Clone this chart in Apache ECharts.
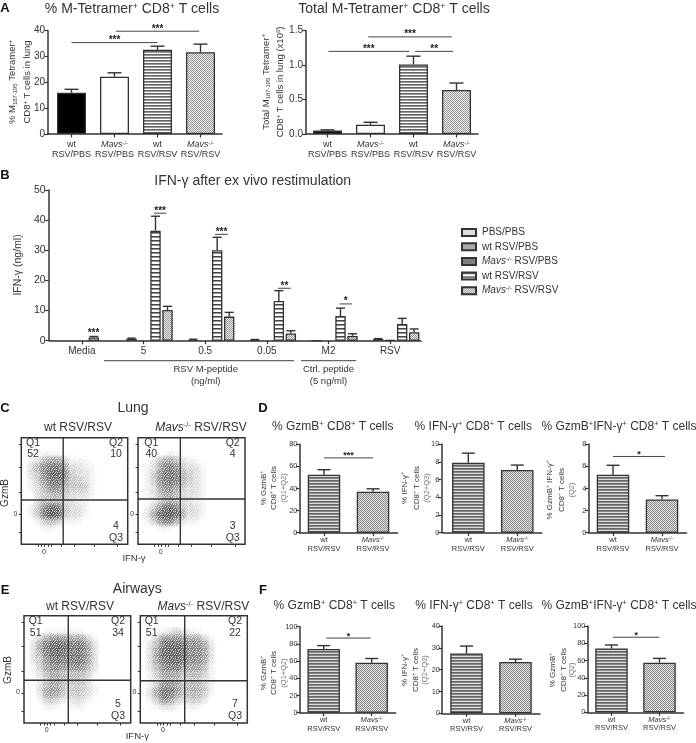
<!DOCTYPE html>
<html><head><meta charset="utf-8">
<style>html,body{margin:0;padding:0;background:#fff}#c{width:696px;height:743px;filter:blur(0.3px)}</style>
<script src="https://cdn.jsdelivr.net/npm/echarts@6/dist/echarts.min.js"></script>
</head><body><div id="c"></div>
<script>
// ---------- DATA ----------
const catsPbsRsv = ['wt\nRSV/PBS', 'Mavs\nRSV/PBS', 'wt\nRSV/RSV', 'Mavs\nRSV/RSV'];
const catsRsvRsv = ['wt\nRSV/RSV', 'Mavs\nRSV/RSV'];
const aPctVals = [16, 22.2, 32.6, 31.7];
const aPctTops = [17.3, 23.7, 34, 34.8];
const aPctSig = [[1.03, 2.97, 39.8, 3], [0, 2, 35.4, 3]];
const aTotVals = [0.05, 0.135, 1.01, 0.64];
const aTotTops = [0.06, 0.17, 1.13, 0.74];
const aTotSig = [[0.95, 2.89, 1.41, 3], [0.02, 1.9, 1.2, 3], [2.04, 2.92, 1.2, 2]];

const bCats = ['Media', '5', '0.5', '0.05', 'M2', 'RSV'];
const bNames = ['PBS/PBS', 'wt RSV/PBS', 'Mavs RSV/PBS', 'wt RSV/RSV', 'Mavs RSV/RSV'];
const bPbsPbs = [null, null, null, null, null, null];
const bWtPbs = [null, 0.7, 0.4, 0.3, 0.08, 0.6];
const bMavsPbs = [null, null, null, null, null, 0.2];
const bWtRsv = [1.1, 36.5, 30, 13.2, 8.2, 5.5];
const bMavsRsv = [null, 10.2, 8, 2.4, 1.6, 2.8];
const bWtPbsTop = [null, 0.85, 0.5, 0.4, null, 0.7];
const bWtRsvTop = [1.4, 41.3, 34.3, 16.6, 10.8, 7.4];
const bMavsRsvTop = [null, 11.4, 9.4, 3.3, 2.3, 3.9];
const bSig = [[0.19, 0.19, 1.9, 3], [1.17, 1.37, 42.3, 3], [2.16, 2.37, 35.3, 3], [3.18, 3.39, 17.4, 2], [4.18, 4.38, 12.2, 1]];

const d1Vals = [52.5, 37], d1Tops = [57, 39.7], d1Sig = [[0, 1, 67.7, 3]];
const d2Vals = [7.9, 7.1], d2Tops = [9, 7.65];
const d3Vals = [5.25, 3], d3Tops = [6.1, 3.35], d3Sig = [[0, 1.06, 6.9, 1]];
const f1Vals = [74, 58], f1Tops = [78, 63], f1Sig = [[0.05, 0.98, 86.8, 1]];
const f2Vals = [27.4, 23.5], f2Tops = [30.8, 24.8];
const f3Vals = [74, 57.5], f3Tops = [78, 62.5], f3Sig = [[0.03, 1, 87, 1]];

// Event density, 16 x 16 cells, top row first (0 empty .. 9 darkest)
const cWtDensity = ['0000000000000000','0000000000000000','0001110000000000','0124553111000000','0246775221100000','0236886322100000','0135775332100000','0124664333100000','0023443222100000','0023332211000000','0136873221000000','0137983221000000','0013431110000000','0001100000000000','0000000000000000','0000000000000000'];
const cMavsDensity = ['0000000000000000','0000000000000000','0000110000000000','0024542110000000','0125763221000000','0136774321000000','0136774321000000','0125653221000000','0124542221000000','0013442211000000','0136873221000000','0258985221000000','0136752110000000','0001100000000000','0000000000000000','0000000000000000'];
const eWtDensity = ['0000000000000000','0000000000000000','0001111110000000','0135665553100000','0257887775200000','0247886775200000','0236776775200000','0135665664200000','0124543443100000','0013443332000000','0024542332100000','0025542332100000','0013321221000000','0001100110000000','0000000000000000','0000000000000000'];
const eMavsDensity = ['0000000000000000','0000000000000000','0001232110000000','0136665553100000','0247887665200000','0258887665200000','0257887665200000','0246775554100000','0135553443100000','0124442332100000','0136653443100000','0257753443100000','0136532332000000','0012210110000000','0000000000000000','0000000000000000'];
const cWtGate = [6.3, 6.65], cMavsGate = [6.33, 6.8], eWtGate = [6.64, 6.37], eMavsGate = [6.64, 6.3];
const flowYTicks = [1.75, 4.5, 7.75, 11.5, 15];
const flowXTicks = [2.5, 3, 3.5, 4, 4.5, 6, 8, 11, 14.5];

// ---------- STYLE HELPERS ----------
const FONT = 'Liberation Sans', INK = '#333';
function pattern(w, h, cells) {
  const c = document.createElement('canvas'); c.width = w; c.height = h;
  const g = c.getContext('2d');
  for (let y = 0; y < h; y++) for (let x = 0; x < w; x++) { g.fillStyle = cells[y % cells.length][x % cells[0].length]; g.fillRect(x, y, 1, 1); }
  return { image: c, repeat: 'repeat' };
}
const stripeCoarse = pattern(1, 4, [['#444'], ['#999'], ['#fff'], ['#fff']]);
const stripeA = pattern(1, 3, [['#666'], ['#999'], ['#fff']]);
const stripeFine = pattern(1, 3, [['#666'], ['#888'], ['#ddd']]);
const dotsA = pattern(2, 2, [['#999', '#eee'], ['#eee', '#999']]);
const dotsFine = pattern(2, 2, [['#888', '#e4e4e4'], ['#e4e4e4', '#888']]);
// fixed grain tile laid over the flow density (a texture: white specks, invisible on white paper)
const W = 'rgba(255,255,255,0.75)', O = 'rgba(255,255,255,0)', H = 'rgba(255,255,255,0.4)';
const grainTile = pattern(7, 7, [
  [W, O, O, H, O, W, O],
  [O, O, W, O, O, O, H],
  [H, O, O, O, W, O, O],
  [O, W, O, H, O, O, W],
  [O, O, O, O, O, H, O],
  [W, O, H, O, W, O, O],
  [O, O, O, W, O, O, H]]);
const richFor = s => ({
  s: { fontSize: s * 0.62, fontFamily: FONT, fill: INK, color: INK, verticalAlign: 'top', lineHeight: s * 1.1 },
  b: { fontSize: s * 0.62, fontFamily: FONT, fill: INK, color: INK, verticalAlign: 'bottom', lineHeight: s * 1.1 },
  i: { fontSize: s, fontFamily: FONT, fill: INK, color: INK, fontStyle: 'italic', lineHeight: s * 1.1 },
  n: { fontSize: s, fontFamily: FONT, fill: INK, color: INK, lineHeight: s * 1.1 }
});
const catLabel = v => v.replace(/^Mavs/, '{i|Mavs}{s|-/-}').replace(/^wt/, '{n|wt}').replace(/\n(.*)$/, '\n{n|$1}');

const graphic = [];
function T(x, y, text, size, o = {}) {
  graphic.push({ type: 'text', x, y, rotation: o.rot ? Math.PI / 2 : 0, silent: true, z: 50,
    style: { text, fontSize: size, fontFamily: FONT, fontWeight: o.bold ? 'bold' : 'normal', fill: o.color || INK,
      align: o.align || 'center', verticalAlign: 'middle', rich: richFor(size) } });
}
function L(x1, x2, y, color = '#666', w = 1.2) {
  graphic.push({ type: 'line', silent: true, shape: { x1, y1: y, x2, y2: y }, style: { stroke: color, lineWidth: w } });
}
const grid = [], xAxis = [], yAxis = [], series = [];

function catX(api, v) {
  const f = Math.floor(v);
  return api.coord([f, 0])[0] + (v - f) * api.size([1, 0])[0];
}
function errorSeries(gi, vals, tops, capHalf, shift) {
  series.push({ type: 'custom', xAxisIndex: gi, yAxisIndex: gi, z: 3, silent: true,
    data: vals.map((v, i) => [i, v, tops[i]]).filter(d => d[1] != null && d[2] != null),
    renderItem(p, api) {
      const a = api.coord([api.value(0), api.value(1)]), b = api.coord([api.value(0), api.value(2)]);
      const x = a[0] + shift;
      return { type: 'group', children: [
        { type: 'line', shape: { x1: x, y1: a[1], x2: x, y2: b[1] }, style: { stroke: INK, lineWidth: 1.4 } },
        { type: 'line', shape: { x1: x - capHalf, y1: b[1], x2: x + capHalf, y2: b[1] }, style: { stroke: INK, lineWidth: 1.4 } }
      ] };
    } });
}
function sigSeries(gi, sig, size) {
  series.push({ type: 'custom', xAxisIndex: gi, yAxisIndex: gi, z: 4, silent: true,
    data: sig.map(s => [0, s[2], s[0], s[1], s[3]]), encode: { x: 0, y: 1 },
    renderItem(p, api) {
      const y = api.coord([0, api.value(1)])[1];
      const x1 = catX(api, api.value(2)), x2 = catX(api, api.value(3));
      return { type: 'group', children: [
        { type: 'line', shape: { x1, y1: y, x2, y2: y }, style: { stroke: '#444', lineWidth: 1 } },
        { type: 'text', style: { x: (x1 + x2) / 2, y: y + size * 0.28, text: '*'.repeat(api.value(4)), fontSize: size, fontWeight: 'bold', fontFamily: FONT, fill: '#222', align: 'center', verticalAlign: 'bottom' } }
      ] };
    } });
}
function axes(g, cats, max, interval, font, o) {
  const gi = grid.length;
  grid.push({ left: g[0], top: g[1], width: g[2], height: g[3], containLabel: false });
  xAxis.push({ type: 'category', gridIndex: gi, data: cats,
    axisLine: { show: true, lineStyle: { color: '#333', width: 1.5 } },
    axisTick: { show: true, alignWithLabel: true, length: 3.5, lineStyle: { color: '#333', width: 1.2 } },
    axisLabel: { interval: 0, fontSize: o.xFont || font, fontFamily: FONT, color: INK, margin: o.xMargin, lineHeight: o.xLine, formatter: o.plainX ? undefined : catLabel, rich: richFor(o.xFont || font) } });
  yAxis.push({ type: 'value', gridIndex: gi, min: 0, max, interval, offset: o.offset || 0,
    axisLine: { show: true, lineStyle: { color: '#333', width: 1.5 } },
    axisTick: { show: true, length: 3.5, lineStyle: { color: '#333', width: 1.2 } }, splitLine: { show: false },
    axisLabel: { fontSize: font, fontFamily: FONT, color: INK, margin: o.yMargin || 3, formatter: o.yFmt } });
  if (o.offset) L(g[0] - o.offset, g[0], g[1] + g[3], '#333', 1.5);
  return gi;
}
function panel(g, cats, vals, tops, max, interval, fills, o) {
  const gi = axes(g, cats, max, interval, o.font, o);
  series.push({ type: 'bar', xAxisIndex: gi, yAxisIndex: gi, barWidth: o.barWidth, silent: true,
    data: vals.map((v, i) => ({ value: v, itemStyle: { color: fills[i], borderColor: '#333', borderWidth: 1.3 } })) });
  errorSeries(gi, vals, tops, o.cap, 0);
  if (o.sig) sigSeries(gi, o.sig, o.sigSize);
}
function flow(g, density, gate) {
  const gi = grid.length;
  grid.push({ show: true, left: g[0], top: g[1], width: g[2], height: g[3], borderColor: '#333', borderWidth: 1.5, backgroundColor: 'transparent' });
  const ax = (ticks, lab) => ({ type: 'value', gridIndex: gi, min: 0, max: 16, splitLine: { show: false },
    axisLine: { show: false },
    axisTick: { show: true, length: 2.5, customValues: ticks, lineStyle: { color: '#333', width: 1 } },
    axisLabel: { show: true, customValues: [lab], formatter: () => '0', fontSize: 7, fontFamily: FONT, color: INK, margin: 4 } });
  xAxis.push(ax(flowXTicks, 3.4)); yAxis.push(ax(flowYTicks, 4.55));
  const cells = [];
  density.forEach((row, r) => row.split('').forEach((d, c) => { if (+d) cells.push([c + 0.5, 15.5 - r, +d]); }));
  series.push({ type: 'custom', xAxisIndex: gi, yAxisIndex: gi, silent: true, data: cells, z: 1,
    renderItem(p, api) {
      const q = api.coord([api.value(0), api.value(1)]), a = Math.pow(api.value(2) / 9, 1.2) * 0.8;
      return { type: 'circle', shape: { cx: q[0], cy: q[1], r: 6.8 }, style: { fill: { type: 'radial', x: 0.5, y: 0.5, r: 0.5, colorStops: [
        { offset: 0, color: `rgba(30,30,30,${a})` }, { offset: 0.55, color: `rgba(30,30,30,${a * 0.6})` }, { offset: 1, color: 'rgba(30,30,30,0)' }] } } };
    } });
  series.push({ type: 'custom', xAxisIndex: gi, yAxisIndex: gi, silent: true, data: [gate], z: 5,
    renderItem(p, api) {
      const c = api.coord([api.value(0), api.value(1)]), b = p.coordSys;
      return { type: 'group', children: [
        { type: 'rect', z2: -1, shape: { x: b.x + 1, y: b.y + 1, width: b.width - 2, height: b.height - 2 }, style: { fill: grainTile } },
        { type: 'line', shape: { x1: c[0], y1: b.y, x2: c[0], y2: b.y + b.height }, style: { stroke: '#333', lineWidth: 1.4 } },
        { type: 'line', shape: { x1: b.x, y1: c[1], x2: b.x + b.width, y2: c[1] }, style: { stroke: '#333', lineWidth: 1.4 } }
      ] };
    } });
}

// ---------- PANEL A ----------
const aOpt = { font: 10, xFont: 9, barWidth: 29, cap: 7, xMargin: 6, xLine: 10.5, sigSize: 10 };
const aFills = ['#000', '#fff', stripeA, dotsA];
panel([50, 30.7, 172, 103.3], catsPbsRsv, aPctVals, aPctTops, 40, 10, aFills, { ...aOpt, offset: 2, sig: aPctSig });
panel([306, 30.7, 172, 103.3], catsPbsRsv, aTotVals, aTotTops, 1.5, 0.5, aFills, { ...aOpt, sig: aTotSig, yFmt: v => v.toFixed(1) });

// ---------- PANEL B ----------
const bGi = axes([51, 190, 370, 150.7], bCats, 50, 10, 10.5, { offset: 2.3, xFont: 10, xMargin: 6, plainX: true });
const bFills = ['#ddd', '#aaa', '#808080', stripeCoarse, dotsA];
[bPbsPbs, bWtPbs, bMavsPbs, bWtRsv, bMavsRsv].forEach((vals, k) => {
  series.push({ type: 'bar', name: bNames[k], xAxisIndex: bGi, yAxisIndex: bGi, barWidth: 10.4, barGap: '15.4%', silent: true, data: vals,
    itemStyle: { color: bFills[k], borderColor: '#333', borderWidth: 1.3 } });
});
errorSeries(bGi, bWtPbs, bWtPbsTop, 4, -12);
errorSeries(bGi, bWtRsv, bWtRsvTop, 4.5, 12);
errorSeries(bGi, bMavsRsv, bMavsRsvTop, 4.5, 24);
sigSeries(bGi, bSig, 10);

// ---------- PANELS C, E ----------
flow([21.3, 437.7, 106.4, 106.6], cWtDensity, cWtGate);
flow([138, 437.7, 107, 106.6], cMavsDensity, cMavsGate);
flow([24, 615.7, 106.7, 107.3], eWtDensity, eWtGate);
flow([140.3, 615.7, 107, 107.3], eMavsDensity, eMavsGate);

// ---------- PANELS D, F ----------
const dOpt = { font: 7.5, barWidth: 32.5, cap: 6.5, xMargin: 3.5, xLine: 8.5, sigSize: 9, yMargin: 2 };
const pFills = [stripeFine, dotsFine];
panel([299.5, 444.3, 98, 88.4], catsRsvRsv, d1Vals, d1Tops, 80, 20, pFills, { ...dOpt, sig: d1Sig });
panel([443.8, 444.3, 98, 88.4], catsRsvRsv, d2Vals, d2Tops, 10, 2, pFills, { ...dOpt, offset: 2.5 });
panel([588.5, 444.3, 98, 88.4], catsRsvRsv, d3Vals, d3Tops, 8, 2, pFills, { ...dOpt, sig: d3Sig });
panel([299.7, 626.7, 96, 86], catsRsvRsv, f1Vals, f1Tops, 100, 20, pFills, { ...dOpt, sig: f1Sig });
panel([442, 626, 98, 87.3], catsRsvRsv, f2Vals, f2Tops, 40, 10, pFills, { ...dOpt });
panel([587.5, 626, 96, 86.3], catsRsvRsv, f3Vals, f3Tops, 100, 20, pFills, { ...dOpt, sig: f3Sig });

// ---------- TEXT ----------
[['A', 5, 8], ['B', 5, 175], ['C', 5, 408], ['D', 263, 408], ['E', 5, 590.5], ['F', 263, 590.5]].forEach(p => T(p[1], p[2], p[0], 13, { bold: true, color: '#111' }));
T(132, 9.5, '% M-Tetramer{s|+} CD8{s|+} T cells', 14);
T(394, 9.5, 'Total M-Tetramer{s|+} CD8{s|+} T cells', 14);
T(12.7, 82, '% M{b|187-195} Tetramer{s|+}', 9.5, { rot: 1 });
T(27.3, 82, 'CD8{s|+} T cells in lung', 9.5, { rot: 1 });
T(266, 82, 'Total M{b|187-195} Tetramer{s|+}', 9.5, { rot: 1 });
T(280.7, 82, 'CD8{s|+} T cells in lung (x10{s|6})', 9.5, { rot: 1 });

T(252.7, 180.7, 'IFN-γ after ex vivo restimulation', 14);
T(18, 265, 'IFN-γ (ng/ml)', 10.5, { rot: 1 });
L(104, 294, 360.7); L(301, 356, 360.7);
T(205.7, 369, 'RSV M-peptide', 9.5); T(205.7, 381.7, '(ng/ml)', 9.5);
T(328.5, 369, 'Ctrl. peptide', 9.5); T(328.5, 381.7, '(5 ng/ml)', 9.5);

T(133, 407.7, 'Lung', 14);
T(78, 428, 'wt RSV/RSV', 12); T(201, 428, '{i|Mavs}{s|-/-} RSV/RSV', 12);
T(5.7, 493, 'GzmB', 10, { rot: 1 }); T(134, 558.3, 'IFN-γ', 9.5);
T(137.3, 589, 'Airways', 14);
T(80, 606.7, 'wt RSV/RSV', 12); T(203.3, 606.7, '{i|Mavs}{s|-/-} RSV/RSV', 12);
T(8.3, 670, 'GzmB', 10, { rot: 1 }); T(137.3, 736.7, 'IFN-γ', 9.5);

[[33, 116, 442.7, 454.3, 526, 537.7, '52', '10', '4'],
 [151.3, 232.7, 442.7, 454.3, 526, 537.7, '40', '4', '3'],
 [35.7, 118, 620.7, 632.7, 704, 715.7, '51', '34', '5'],
 [151.7, 235, 620.7, 632.7, 704, 715.7, '51', '22', '7']].forEach(q => {
  T(q[0], q[2], 'Q1', 10.5); T(q[0], q[3], q[6], 10.5);
  T(q[1], q[2], 'Q2', 10.5); T(q[1], q[3], q[7], 10.5);
  T(q[1], q[4], q[8], 10.5); T(q[1], q[5], 'Q3', 10.5);
});

T(332.7, 427, '% GzmB{s|+} CD8{s|+} T cells', 12);
T(473.3, 427, '% IFN-γ{s|+} CD8{s|+} T cells', 12);
T(619, 427, '% GzmB{s|+}IFN-γ{s|+} CD8{s|+} T cells', 12);
T(334.3, 605.7, '% GzmB{s|+} CD8{s|+} T cells', 12);
T(474, 605.7, '% IFN-γ{s|+} CD8{s|+} T cells', 12);
T(619, 605.7, '% GzmB{s|+}IFN-γ{s|+} CD8{s|+} T cells', 12);
[[263.3, 274, 284, 488, '% GzmB{s|+}', '(Q1+Q2)'], [405, 416.7, 426.7, 488, '% IFN-γ{s|+}', '(Q2+Q3)'], [550, 561.7, 571.7, 490, '% GzmB{s|+} IFN-γ{s|+}', '(Q2)'],
 [263.3, 274, 284, 673, '% GzmB{s|+}', '(Q1+Q2)'], [405, 416, 425, 670, '% IFN-γ{s|+}', '(Q2+Q3)'], [553, 564, 571.7, 670, '% GzmB{s|+}', '(Q2)']].forEach(r => {
  T(r[0], r[3], r[4], 8, { rot: 1 });
  T(r[1], r[3], 'CD8{s|+} T cells', 8, { rot: 1 });
  T(r[2], r[3], r[5], 7.5, { rot: 1, color: '#777' });
});

// ---------- CHART ----------
const chart = echarts.init(document.getElementById('c'), null, { renderer: 'canvas', width: 696, height: 743 });
chart.setOption({
  animation: false, backgroundColor: '#fff', grid, xAxis, yAxis, series, graphic,
  legend: { data: bNames, orient: 'vertical', left: 456, top: 222.5, itemWidth: 14, itemHeight: 7, itemGap: 4.3, selectedMode: false,
    icon: 'rect', textStyle: { fontSize: 10, fontFamily: FONT, color: INK, padding: [0, 0, 0, 1], rich: richFor(10) },
    formatter: n => n.replace(/^Mavs/, '{i|Mavs}{s|-/-}') }
});
</script></body></html>
